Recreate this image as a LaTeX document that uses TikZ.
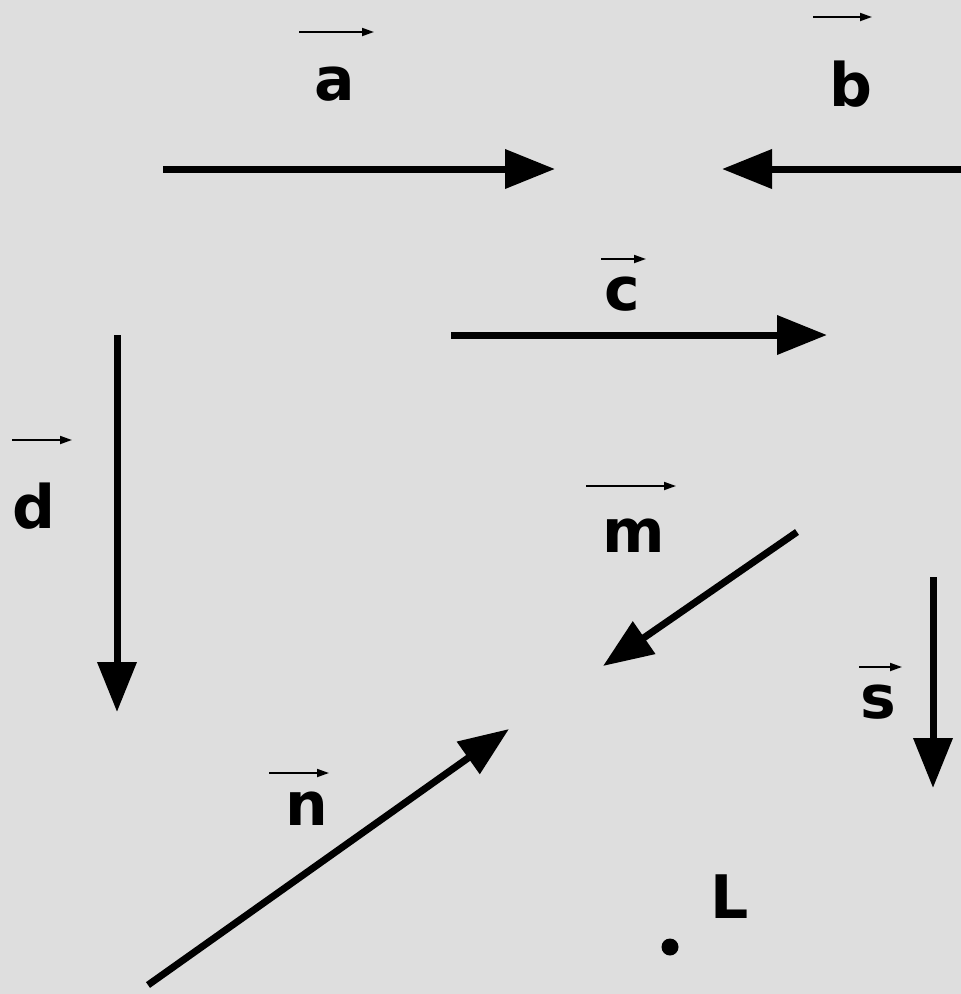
\documentclass[tikz,border=0pt]{standalone}
\usepackage{fontspec}
\setmainfont{DejaVu Sans}
\usetikzlibrary{arrows.meta}
\definecolor{bg}{RGB}{222,222,222}
\tikzset{
  vec/.style={line width=7pt,-{Triangle[length=50pt,width=38pt]}},
  lbl/.style={font=\fontsize{60}{60}\selectfont\bfseries,inner sep=0pt},
  over/.style={line width=1.8pt,-{Triangle[length=12pt,width=8pt]}}
}
\begin{document}
\begin{tikzpicture}[x=1pt,y=-1pt]
\fill[bg] (0,0) rectangle (961,994);
\useasboundingbox (0,0) rectangle (961,994);
% big vectors
\coordinate (a0) at (163,169); \coordinate (a1) at (555,169);
\coordinate (b0) at (961,169); \coordinate (b1) at (722,169);
\coordinate (c0) at (451,335); \coordinate (c1) at (827,335);
\coordinate (d0) at (117,335); \coordinate (d1) at (117,712);
\coordinate (m0) at (797,532); \coordinate (m1) at (603,666);
\coordinate (n0) at (148,985); \coordinate (n1) at (509,729);
\coordinate (s0) at (933,577); \coordinate (s1) at (933,788);
\draw[vec] (a0) -- (a1);
\draw[vec] (b0) -- (b1);
\draw[vec] (c0) -- (c1);
\draw[vec] (d0) -- (d1);
\draw[vec] (m0) -- (m1);
\draw[vec] (n0) -- (n1);
\draw[vec] (s0) -- (s1);
% labels
\node[lbl] (la) at (335,84) {a};
\node[lbl] (lb) at (851,84) {b};
\node[lbl] (lc) at (622,294) {c};
\node[lbl] (ld) at (34,506) {d};
\node[lbl] (lm) at (634,536) {m};
\node[lbl] (ls) at (878,702) {s};
\node[lbl] (ln) at (307,809) {n};
\node[lbl] (lL) at (730,897) {L};
% overhead arrows
\coordinate (oa0) at (299,32); \coordinate (oa1) at (374,32);
\coordinate (ob0) at (813,17); \coordinate (ob1) at (872,17);
\coordinate (oc0) at (601,259); \coordinate (oc1) at (646,259);
\coordinate (od0) at (12,440); \coordinate (od1) at (72,440);
\coordinate (om0) at (586,486); \coordinate (om1) at (676,486);
\coordinate (os0) at (859,667); \coordinate (os1) at (902,667);
\coordinate (on0) at (269,773); \coordinate (on1) at (329,773);
\draw[over] (oa0) -- (oa1);
\draw[over] (ob0) -- (ob1);
\draw[over] (oc0) -- (oc1);
\draw[over] (od0) -- (od1);
\draw[over] (om0) -- (om1);
\draw[over] (os0) -- (os1);
\draw[over] (on0) -- (on1);
% point L
\fill (670,947) circle (8.5);
\end{tikzpicture}
\end{document}
